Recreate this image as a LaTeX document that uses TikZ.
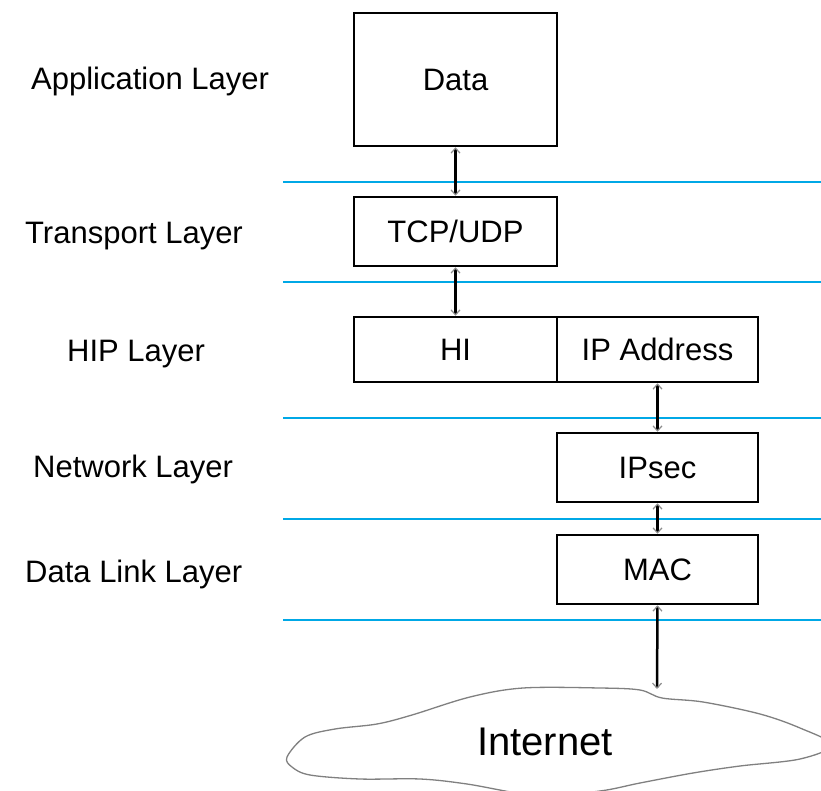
\documentclass[tikz,border=0pt]{standalone}
\usepackage{fontspec}
\setmainfont{Liberation Sans}
\usetikzlibrary{arrows.meta}
\definecolor{sepblue}{RGB}{0,168,230}
\begin{document}
\begin{tikzpicture}[x=1pt,y=-1pt,
  txt/.style={font=\fontsize{31}{37}\selectfont},
  box/.style={txt,draw=black,line width=2.5pt,inner sep=0pt,text height=22pt,text depth=0pt},
  lbl/.style={txt,anchor=base west,inner sep=0pt},
  sepline/.style={draw=sepblue,line width=2pt},
  tipx/.tip={Straight Barb[length=5pt,width=9pt,line width=1.2pt,color=black!45]},
  arr/.style={line width=2.5pt,{tipx}-{tipx}},
  cloudline/.style={draw=black!50,line width=1.3pt},
]
\clip (0,0) rectangle (821,791);
\fill[white] (0,0) rectangle (821,791);

% separator lines
\foreach \yy in {182,282,418,519,620}{
  \draw[sepline] (283,\yy) -- (821,\yy);
}

% layer labels
\node[lbl] (lapp) at (31,90) {Application Layer};
\node[lbl] (ltra) at (25,244) {Transport Layer};
\node[lbl] (lhip) at (67,361) {HIP Layer};
\node[lbl] (lnet) at (33,477) {Network Layer};
\node[lbl] (llnk) at (25,582) {Data Link Layer};

% boxes
\node[box,minimum width=203pt,minimum height=133pt] (data) at (455.5,79.5) {Data};
\node[box,minimum width=203pt,minimum height=69pt] (tcp) at (455.5,231.5) {TCP/UDP};
\node[box,minimum width=203pt,minimum height=65pt] (hi) at (455.5,349.5) {HI};
\node[box,minimum width=201pt,minimum height=65pt] (ipa) at (657.5,349.5) {IP Address};
\node[box,minimum width=201pt,minimum height=69pt] (ipsec) at (657.5,467.5) {IPsec};
\node[box,minimum width=201pt,minimum height=69pt] (mac) at (657.5,569.5) {MAC};

% cloud
\draw[cloudline] plot[smooth cycle,tension=0.55] coordinates {
  (287,757) (305,737) (335,729) (377,724) (412,715) (470,697) (523,688)
  (600,688) (640,690) (662,698) (703,702) (760,714) (800,728) (832,745)
  (800,759) (740,766) (693,773) (640,783) (600,791) (540,796) (467,784)
  (420,779) (360,779) (310,775) (292,767)};
\node[font=\fontsize{40}{48}\selectfont,inner sep=0pt] (net) at (545,742) {Internet};
\coordinate (ctop) at (657,689);

% connectors
\draw[arr] (data.south) -- (tcp.north);
\draw[arr] (tcp.south) -- (hi.north);
\draw[arr] (ipa.south) -- (ipsec.north);
\draw[arr] (ipsec.south) -- (mac.north);
\draw[arr] (mac.south) -- (ctop);
\end{tikzpicture}
\end{document}
